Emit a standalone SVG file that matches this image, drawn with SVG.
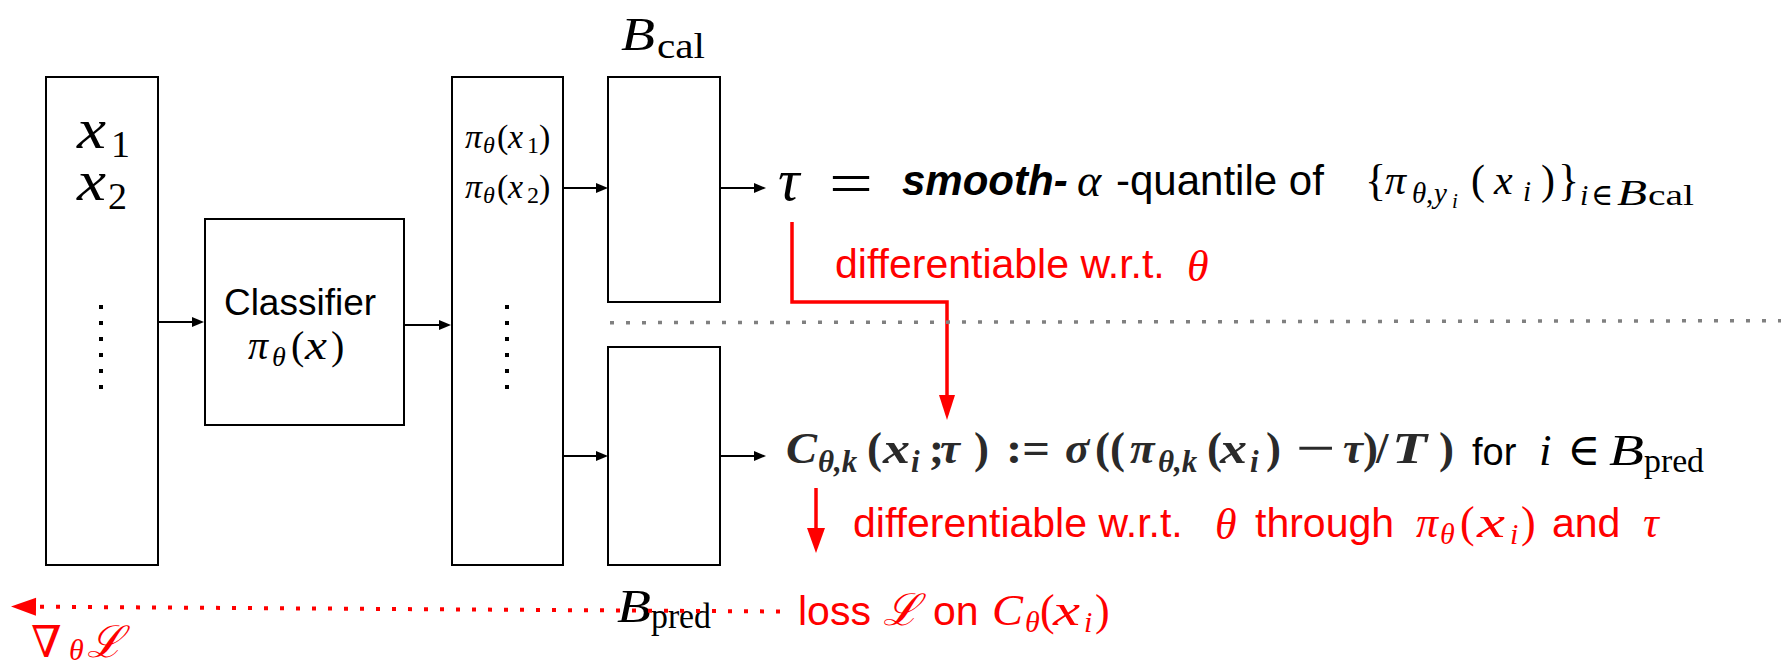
<svg xmlns="http://www.w3.org/2000/svg" width="1781" height="664" viewBox="0 0 1781 664">
<style>
.box{fill:#fff;stroke:#000;stroke-width:2}
.mi{font-family:"Liberation Serif","DejaVu Serif",serif;font-style:italic}
.mr{font-family:"Liberation Serif","DejaVu Serif",serif}
.sa{font-family:"Liberation Sans",Arial,sans-serif}
.red{fill:#ff0000}
.cf{fill:#2a2a2a;font-weight:bold}
.blk{stroke:#000;stroke-width:2;fill:none}
.rl{stroke:#ff0000;stroke-width:3.5;fill:none}
</style>
<defs>
<marker id="ah" markerUnits="userSpaceOnUse" viewBox="0 0 12 10" markerWidth="12" markerHeight="10" refX="1" refY="5" orient="auto" overflow="visible"><path d="M0,0 L12,5 L0,10 z" fill="#000"/></marker>
<marker id="rh" markerUnits="userSpaceOnUse" viewBox="0 0 25 16" markerWidth="25" markerHeight="16" refX="1" refY="8" orient="auto" overflow="visible"><path d="M0,0 L25,8 L0,16 z" fill="#ff0000"/></marker>
<marker id="rh2" markerUnits="userSpaceOnUse" viewBox="0 0 25 18" markerWidth="25" markerHeight="18" refX="1" refY="9" orient="auto" overflow="visible"><path d="M0,0 L25,9 L0,18 z" fill="#ff0000"/></marker>
</defs>

<g id="inputs">
<rect class="box" x="46" y="77" width="112" height="488"/>
<text class="mi" x="77" y="148" font-size="58" textLength="29" lengthAdjust="spacingAndGlyphs">x</text>
<text class="mr" x="111" y="157" font-size="38">1</text>
<text class="mi" x="77" y="200" font-size="58" textLength="29" lengthAdjust="spacingAndGlyphs">x</text>
<text class="mr" x="108" y="209" font-size="38">2</text>
<g fill="#000">
<rect x="99" y="305" width="4" height="4"/><rect x="99" y="321" width="4" height="4"/><rect x="99" y="337" width="4" height="4"/><rect x="99" y="353" width="4" height="4"/><rect x="99" y="369" width="4" height="4"/><rect x="99" y="385" width="4" height="4"/>
</g>
</g>

<g id="classifier">
<rect class="box" x="205" y="219" width="199" height="206"/>
<text class="sa" x="300" y="315" font-size="37" text-anchor="middle">Classifier</text>
<text class="mi" x="248" y="359" font-size="40">π</text>
<text class="mi" x="272" y="366" font-size="28">θ</text>
<text class="mr" x="291" y="359" font-size="40">(</text>
<text class="mi" x="305" y="359" font-size="40" textLength="22" lengthAdjust="spacingAndGlyphs">x</text>
<text class="mr" x="331" y="359" font-size="40">)</text>
</g>

<g id="outputs">
<rect class="box" x="452" y="77" width="111" height="488"/>
<text class="mi" x="465" y="148" font-size="34">π</text>
<text class="mi" x="483" y="153" font-size="24">θ</text>
<text class="mr" x="497" y="148" font-size="34">(</text>
<text class="mi" x="508" y="148" font-size="34">x</text>
<text class="mr" x="527" y="153" font-size="24">1</text>
<text class="mr" x="539" y="148" font-size="34">)</text>
<text class="mi" x="465" y="198" font-size="34">π</text>
<text class="mi" x="483" y="203" font-size="24">θ</text>
<text class="mr" x="497" y="198" font-size="34">(</text>
<text class="mi" x="508" y="198" font-size="34">x</text>
<text class="mr" x="527" y="203" font-size="24">2</text>
<text class="mr" x="539" y="198" font-size="34">)</text>
<g fill="#000">
<rect x="505" y="305" width="4" height="4"/><rect x="505" y="321" width="4" height="4"/><rect x="505" y="337" width="4" height="4"/><rect x="505" y="353" width="4" height="4"/><rect x="505" y="369" width="4" height="4"/><rect x="505" y="385" width="4" height="4"/>
</g>
</g>

<g id="bcal">
<rect class="box" x="608" y="77" width="112" height="225"/>
<text class="mi" x="621" y="50" font-size="46" textLength="34" lengthAdjust="spacingAndGlyphs">B</text>
<text class="mr" x="657" y="58" font-size="35" textLength="48" lengthAdjust="spacingAndGlyphs">cal</text>
</g>

<g id="bpred">
<rect class="box" x="608" y="347" width="112" height="218"/>
<text class="mi" x="617" y="622" font-size="46" textLength="34" lengthAdjust="spacingAndGlyphs">B</text>
<text class="mr" x="651" y="628" font-size="35" textLength="60" lengthAdjust="spacingAndGlyphs">pred</text>
</g>

<g id="tau-formula">
<text class="mi" x="778" y="200" font-size="60">τ</text>
<text class="mr" x="829" y="203" font-size="60" textLength="44" lengthAdjust="spacingAndGlyphs">=</text>
<text class="sa" x="902" y="195" font-size="42" font-weight="bold" font-style="italic">smooth-</text>
<text class="mi" x="1077" y="196" font-size="46">α</text>
<text class="sa" x="1116" y="195" font-size="42">-quantile of</text>
<text class="mr" x="1365" y="195" font-size="44">{</text>
<text class="mi" x="1385" y="194" font-size="42">π</text>
<text class="mi" x="1412" y="203" font-size="29">θ</text>
<text class="mr" x="1426" y="203" font-size="29">,</text>
<text class="mi" x="1434" y="203" font-size="29">y</text>
<text class="mi" x="1452" y="208" font-size="21">i</text>
<text class="mr" x="1471" y="194" font-size="42">(</text>
<text class="mi" x="1494" y="194" font-size="42">x</text>
<text class="mi" x="1523" y="201" font-size="29">i</text>
<text class="mr" x="1541" y="194" font-size="42">)</text>
<text class="mr" x="1558" y="195" font-size="44">}</text>
<text class="mi" x="1580" y="205" font-size="30">i</text>
<text class="mr" x="1591" y="205" font-size="30">∈</text>
<text class="mi" x="1617" y="205" font-size="36" textLength="30" lengthAdjust="spacingAndGlyphs">B</text>
<text class="mr" x="1648" y="205" font-size="30" textLength="46" lengthAdjust="spacingAndGlyphs">cal</text>
</g>

<g id="diff1">
<text class="sa red" x="835" y="278" font-size="41">differentiable w.r.t.</text>
<text class="mi red" x="1187" y="281" font-size="44">θ</text>
</g>

<g id="c-formula">
<text class="mi cf" x="786" y="463" font-size="45" textLength="31" lengthAdjust="spacingAndGlyphs">C</text>
<text class="mi cf" x="818" y="472" font-size="31">θ,k</text>
<text class="mr cf" x="867" y="463" font-size="45">(</text>
<text class="mi cf" x="883" y="463" font-size="45" textLength="27" lengthAdjust="spacingAndGlyphs">x</text>
<text class="mi cf" x="911" y="472" font-size="31">i</text>
<text class="mr cf" x="929" y="463" font-size="45">;</text>
<text class="mi cf" x="940" y="463" font-size="45">τ</text>
<text class="mr cf" x="974" y="463" font-size="45">)</text>
<text class="mr cf" x="1006" y="463" font-size="45" textLength="44" lengthAdjust="spacingAndGlyphs">:=</text>
<text class="mi cf" x="1065" y="463" font-size="45">σ</text>
<text class="mr cf" x="1095" y="463" font-size="45">((</text>
<text class="mi cf" x="1130" y="463" font-size="45">π</text>
<text class="mi cf" x="1158" y="472" font-size="31">θ,k</text>
<text class="mr cf" x="1207" y="463" font-size="45">(</text>
<text class="mi cf" x="1220" y="463" font-size="45" textLength="27" lengthAdjust="spacingAndGlyphs">x</text>
<text class="mi cf" x="1250" y="472" font-size="31">i</text>
<text class="mr cf" x="1266" y="463" font-size="45">)</text>
<text class="mr cf" x="1296" y="463" font-size="45" textLength="40" lengthAdjust="spacingAndGlyphs">−</text>
<text class="mi cf" x="1343" y="463" font-size="45">τ</text>
<text class="mr cf" x="1363" y="463" font-size="45">)</text>
<text class="mr cf" x="1376" y="463" font-size="45">/</text>
<text class="mi cf" x="1392" y="463" font-size="45" textLength="35" lengthAdjust="spacingAndGlyphs">T</text>
<text class="mr cf" x="1439" y="463" font-size="45">)</text>
<text class="sa" x="1472" y="465" font-size="38">for</text>
<text class="mi" x="1539" y="465" font-size="45">i</text>
<text class="mr" x="1567" y="465" font-size="45">∈</text>
<text class="mi" x="1609" y="465" font-size="45" textLength="35" lengthAdjust="spacingAndGlyphs">B</text>
<text class="mr" x="1644" y="472" font-size="33" textLength="60" lengthAdjust="spacingAndGlyphs">pred</text>
</g>

<g id="diff2">
<text class="sa red" x="853" y="537" font-size="41">differentiable w.r.t.</text>
<text class="mi red" x="1215" y="539" font-size="44">θ</text>
<text class="sa red" x="1255" y="537" font-size="41">through</text>
<text class="mi red" x="1416" y="537" font-size="44">π</text>
<text class="mi red" x="1440" y="544" font-size="30">θ</text>
<text class="mr red" x="1460" y="537" font-size="44">(</text>
<text class="mi red" x="1477" y="537" font-size="44" textLength="28" lengthAdjust="spacingAndGlyphs">x</text>
<text class="mi red" x="1510" y="544" font-size="30">i</text>
<text class="mr red" x="1521" y="537" font-size="44">)</text>
<text class="sa red" x="1552" y="537" font-size="41">and</text>
<text class="mi red" x="1643" y="537" font-size="44">τ</text>
</g>

<g id="loss">
<text class="sa red" x="798" y="625" font-size="41">loss</text>
<text class="mi red" x="883" y="625" font-size="44">ℒ</text>
<text class="sa red" x="933" y="625" font-size="41">on</text>
<text class="mi red" x="992" y="625" font-size="44" textLength="31" lengthAdjust="spacingAndGlyphs">C</text>
<text class="mi red" x="1025" y="632" font-size="30">θ</text>
<text class="mr red" x="1040" y="625" font-size="44">(</text>
<text class="mi red" x="1053" y="625" font-size="44" textLength="27" lengthAdjust="spacingAndGlyphs">x</text>
<text class="mi red" x="1084" y="632" font-size="30">i</text>
<text class="mr red" x="1095" y="625" font-size="44">)</text>
</g>

<g id="grad">
<text class="mr red" x="31" y="657" font-size="44">∇</text>
<text class="mi red" x="69" y="660" font-size="30">θ</text>
<text class="mi red" x="87" y="657" font-size="44">ℒ</text>
</g>

<g id="connectors">
<line class="blk" x1="158" y1="322" x2="193" y2="322" marker-end="url(#ah)"/>
<line class="blk" x1="404" y1="325" x2="440" y2="325" marker-end="url(#ah)"/>
<line class="blk" x1="563" y1="188" x2="597" y2="188" marker-end="url(#ah)"/>
<line class="blk" x1="720" y1="188" x2="755" y2="188" marker-end="url(#ah)"/>
<line class="blk" x1="563" y1="456" x2="597" y2="456" marker-end="url(#ah)"/>
<line class="blk" x1="720" y1="456" x2="755" y2="456" marker-end="url(#ah)"/>
<polyline class="rl" points="792,222 792,302 947,302 947,396" marker-end="url(#rh)"/>
<line class="rl" x1="816" y1="488" x2="816" y2="529" marker-end="url(#rh2)"/>
<line x1="610" y1="322.7" x2="1781" y2="320.7" stroke="#808080" stroke-width="3.5" stroke-dasharray="4 12"/>
<line x1="780" y1="611.5" x2="35" y2="606.7" stroke="#ff0000" stroke-width="4" stroke-dasharray="4 12" marker-end="url(#rh2)"/>
</g>
</svg>
